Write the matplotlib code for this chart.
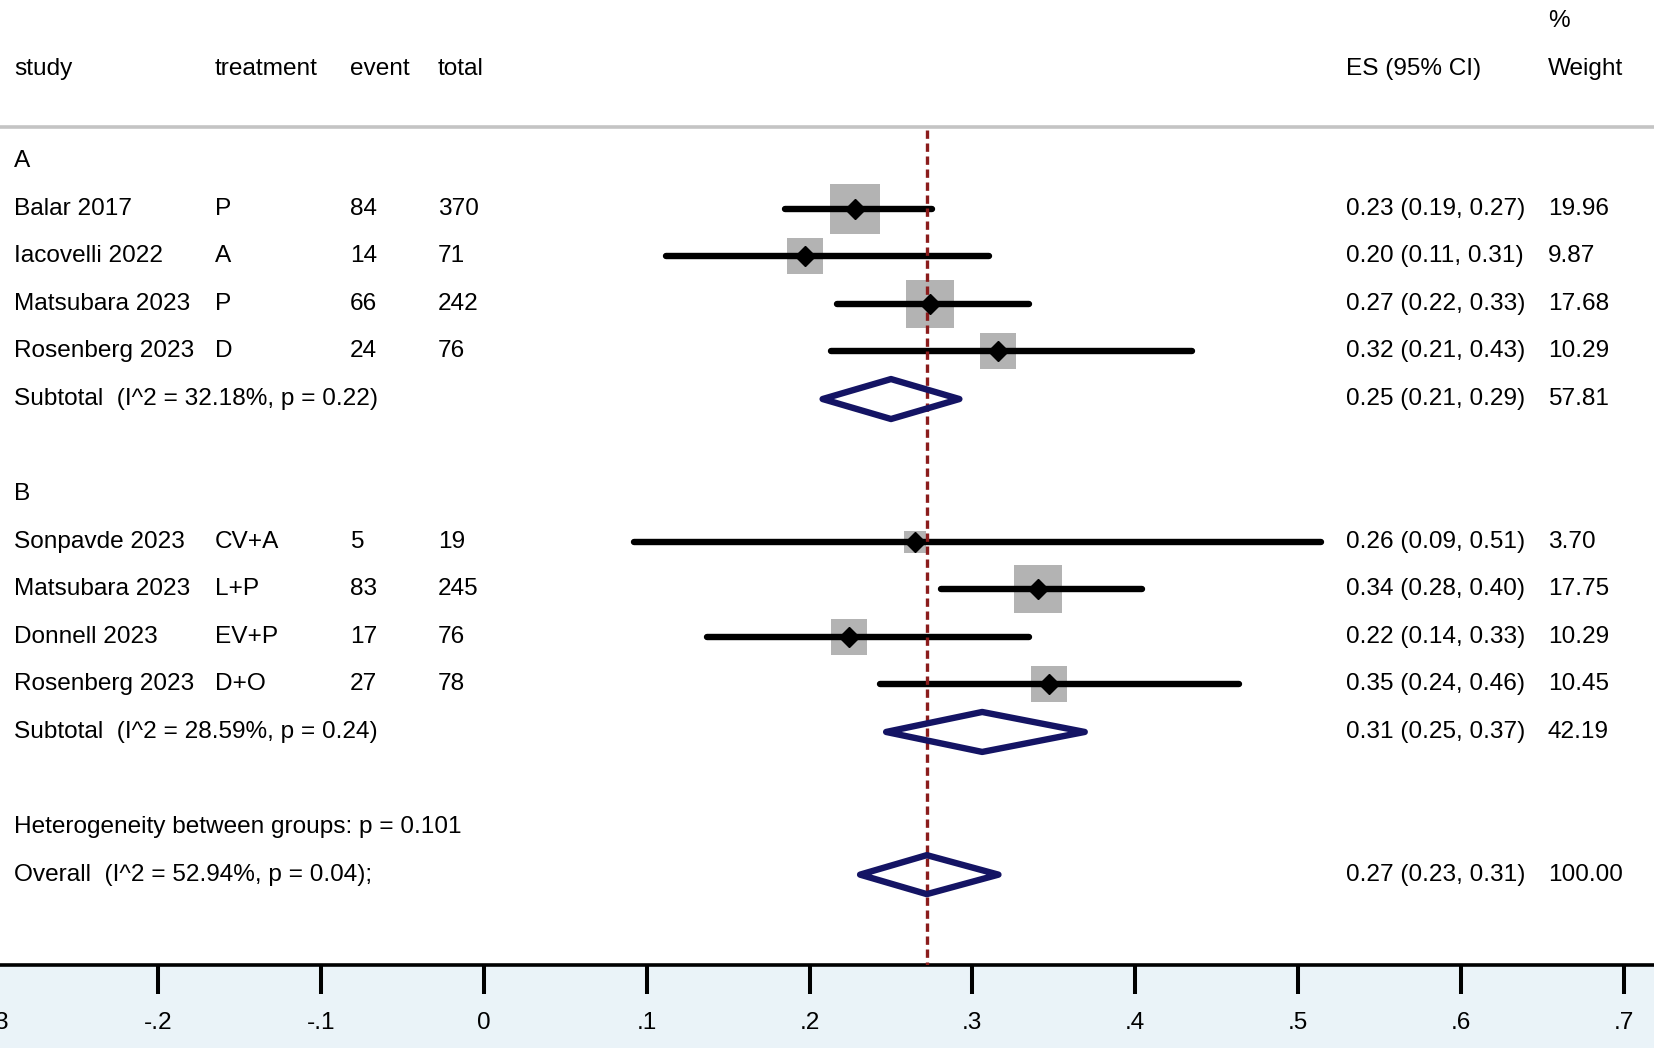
import numpy as np
import matplotlib
matplotlib.use("Agg")
import matplotlib.pyplot as plt
from matplotlib.patches import Polygon
import matplotlib.transforms as mtrans

plt.rcParams['font.family'] = ['Liberation Sans', 'DejaVu Sans']

# ---- study level data ----
study     = ["Balar 2017", "Iacovelli 2022", "Matsubara 2023", "Rosenberg 2023",
             "Sonpavde 2023", "Matsubara 2023", "Donnell 2023", "Rosenberg 2023"]
treatment = ["P", "A", "P", "D", "CV+A", "L+P", "EV+P", "D+O"]
event     = [84, 14, 66, 24, 5, 83, 17, 27]
total     = [370, 71, 242, 76, 19, 245, 76, 78]
group     = ["A", "A", "A", "A", "B", "B", "B", "B"]
es        = [0.228, 0.197, 0.274, 0.316, 0.265, 0.340, 0.224, 0.347]
ci_lo     = [0.185, 0.112, 0.217, 0.213, 0.092, 0.281, 0.137, 0.243]
ci_hi     = [0.275, 0.310, 0.335, 0.435, 0.514, 0.404, 0.335, 0.464]
es_text   = ["0.23 (0.19, 0.27)", "0.20 (0.11, 0.31)", "0.27 (0.22, 0.33)",
             "0.32 (0.21, 0.43)", "0.26 (0.09, 0.51)", "0.34 (0.28, 0.40)",
             "0.22 (0.14, 0.33)", "0.35 (0.24, 0.46)"]
weight    = [19.96, 9.87, 17.68, 10.29, 3.70, 17.75, 10.29, 10.45]

# ---- pooled estimates ----
sub_groups = ["A", "B"]
sub_label  = ["Subtotal  (I^2 = 32.18%, p = 0.22)", "Subtotal  (I^2 = 28.59%, p = 0.24)"]
sub_es     = [0.250, 0.306]
sub_lo     = [0.208, 0.247]
sub_hi     = [0.292, 0.369]
sub_text   = ["0.25 (0.21, 0.29)", "0.31 (0.25, 0.37)"]
sub_weight = [57.81, 42.19]

het_label   = "Heterogeneity between groups: p = 0.101"
ov_label    = "Overall  (I^2 = 52.94%, p = 0.04);"
ov_es, ov_lo, ov_hi = 0.272, 0.231, 0.316
ov_text     = "0.27 (0.23, 0.31)"
ov_weight   = 100.00

xticks      = [-0.3, -0.2, -0.1, 0, 0.1, 0.2, 0.3, 0.4, 0.5, 0.6, 0.7]
xticklabels = ["-.3", "-.2", "-.1", "0", ".1", ".2", ".3", ".4", ".5", ".6", ".7"]

# ---- row layout ----
rows_study, rows_sub, rows_head = [], [], []
r = 0
for g in sub_groups:
    rows_head.append(r)
    r += 1
    for i in range(len(study)):
        if group[i] == g:
            rows_study.append(r)
            r += 1
    rows_sub.append(r)
    r += 2
row_het = r
row_ov = r + 1

FS = 17.6
W, H = 1654, 1048
fig = plt.figure(figsize=(W / 100, H / 100), dpi=100, facecolor='#eaf3f8')

x0, x1 = -0.31, 0.72
px0 = 484 + x0 * 1628
px1 = 484 + x1 * 1628
ybot = 1 - 965 / H
ax = fig.add_axes([px0 / W, ybot, (px1 - px0) / W, 1 - ybot])
ax.set_facecolor('white')
ax.set_xlim(x0, x1)
ax.set_ylim(16.90, -3.39)

for s in ['top', 'left', 'right']:
    ax.spines[s].set_visible(False)
ax.spines['bottom'].set_linewidth(2.6)
ax.set_yticks([])
ax.set_xticks(xticks)
ax.set_xticklabels(xticklabels, fontsize=FS)
ax.tick_params(axis='x', direction='out', length=21, width=2.9, pad=13)

tx = mtrans.blended_transform_factory(fig.transFigure, ax.transData)
col_study, col_treat, col_event, col_total = 14 / W, 215 / W, 350 / W, 438 / W
col_es, col_wt = 1346 / W, 1548 / W

# header
hy = -1.93
for txt, cx in [("study", col_study), ("treatment", col_treat), ("event", col_event),
                ("total", col_total), ("ES (95% CI)", col_es), ("Weight", col_wt)]:
    ax.text(cx, hy, txt, transform=tx, fontsize=FS, va='center', ha='left')
ax.text(col_wt, -2.95, "%", transform=tx, fontsize=FS, va='center', ha='left')
ax.plot([0, 1], [-0.71, -0.71], transform=tx, color='#c4c4c4', lw=2.6, clip_on=False)

# reference line at the overall estimate
ax.plot([ov_es, ov_es], [-0.66, 16.95], color='#8b1c1c', lw=2.4,
        dashes=(2.5, 1.4), zorder=4)

for g, hr in zip(sub_groups, rows_head):
    ax.text(col_study, hr, g, transform=tx, fontsize=FS, va='center')

for i, yr in enumerate(rows_study):
    ax.text(col_study, yr, study[i], transform=tx, fontsize=FS, va='center')
    ax.text(col_treat, yr, treatment[i], transform=tx, fontsize=FS, va='center')
    ax.text(col_event, yr, str(event[i]), transform=tx, fontsize=FS, va='center')
    ax.text(col_total, yr, str(total[i]), transform=tx, fontsize=FS, va='center')
    ax.text(col_es, yr, es_text[i], transform=tx, fontsize=FS, va='center')
    ax.text(col_wt, yr, "%.2f" % weight[i], transform=tx, fontsize=FS, va='center')
    ax.scatter([es[i]], [yr], s=65 * weight[i], marker='s', color='#b3b3b3',
               linewidths=0, zorder=2)
    ax.plot([ci_lo[i], ci_hi[i]], [yr, yr], color='black', lw=4.6,
            solid_capstyle='round', zorder=3)
    ax.plot([es[i]], [yr], marker='D', ms=10, color='black', zorder=5)

def diamond(c, lo, hi, yr, h=0.42):
    p = Polygon([[lo, yr], [c, yr - h], [hi, yr], [c, yr + h]], closed=True,
                fill=False, edgecolor='#141464', lw=4.6, joinstyle='round', zorder=5)
    ax.add_patch(p)

for k, yr in enumerate(rows_sub):
    ax.text(col_study, yr, sub_label[k], transform=tx, fontsize=FS, va='center')
    ax.text(col_es, yr, sub_text[k], transform=tx, fontsize=FS, va='center')
    ax.text(col_wt, yr, "%.2f" % sub_weight[k], transform=tx, fontsize=FS, va='center')
    diamond(sub_es[k], sub_lo[k], sub_hi[k], yr)

ax.text(col_study, row_het, het_label, transform=tx, fontsize=FS, va='center')
ax.text(col_study, row_ov, ov_label, transform=tx, fontsize=FS, va='center')
ax.text(col_es, row_ov, ov_text, transform=tx, fontsize=FS, va='center')
ax.text(col_wt, row_ov, "%.2f" % ov_weight, transform=tx, fontsize=FS, va='center')
diamond(ov_es, ov_lo, ov_hi, row_ov, h=0.41)

fig.savefig("out.png", dpi=100, facecolor=fig.get_facecolor())
